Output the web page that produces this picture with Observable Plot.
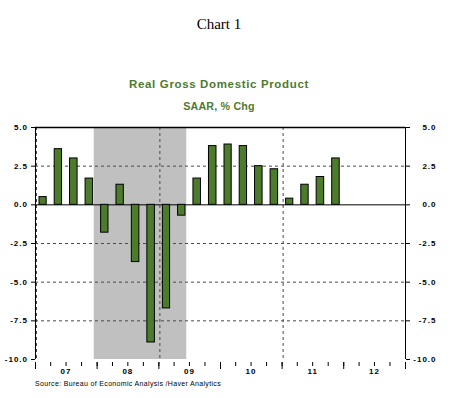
<!DOCTYPE html>
<html><head><meta charset="utf-8">
<script src="https://cdn.jsdelivr.net/npm/d3@7"></script>
<script src="https://cdn.jsdelivr.net/npm/@observablehq/plot@0.6"></script>
<style>
body{margin:0;background:#fff;}
#wrap{position:relative;width:450px;height:398px;overflow:hidden;}
.t{position:absolute;left:0;width:438px;text-align:center;line-height:1;white-space:nowrap;}
#chart{position:absolute;left:0;top:0;}
</style></head><body>
<div id="wrap">
<div id="chart"></div>
<div class="t" id="t0" style="top:15.7px;font:15px 'Liberation Serif','Times New Roman',serif;color:#000;"></div>
<div class="t" id="t1" style="top:77.6px;font:bold 11.5px 'Liberation Sans',Arial,sans-serif;color:#4e7a30;letter-spacing:0.65px;"></div>
<div class="t" id="t2" style="top:100.2px;font:bold 10.7px 'Liberation Sans',Arial,sans-serif;color:#4e7a30;letter-spacing:0.2px;"></div>
<div id="src" style="position:absolute;left:35px;top:380px;font:7px 'Liberation Sans',Arial,sans-serif;letter-spacing:0.33px;line-height:1;white-space:nowrap;color:#000;"></div>
</div>
<script>
// ---- data ----
const chartTitle = "Chart 1";
const title = "Real Gross Domestic Product";
const subtitle = "SAAR, % Chg";
const source = "Source: Bureau of Economic Analysis /Haver Analytics";

const quarters = ["2007Q1","2007Q2","2007Q3","2007Q4","2008Q1","2008Q2","2008Q3","2008Q4",
                  "2009Q1","2009Q2","2009Q3","2009Q4","2010Q1","2010Q2","2010Q3","2010Q4",
                  "2011Q1","2011Q2","2011Q3","2011Q4"];
const gdp = [0.5, 3.6, 3.0, 1.7, -1.8, 1.3, -3.7, -8.9,
             -6.7, -0.7, 1.7, 3.8, 3.9, 3.8, 2.5, 2.3,
             0.4, 1.3, 1.8, 3.0];
const recessionStart = ["2007-12-15"];
const recessionEnd = ["2009-06-15"];
const yTicks = [-10, -7.5, -5, -2.5, 0, 2.5, 5];
const yGrid = [-7.5, -5, -2.5, 2.5];
const years = [2007, 2008, 2009, 2010, 2011, 2012];
const gridYears = [2007, 2009, 2011];
const xStartYear = 2007, xEndYear = 2013;

document.getElementById("t0").textContent = chartTitle;
document.getElementById("t1").textContent = title;
document.getElementById("t2").textContent = subtitle;
document.getElementById("src").textContent = source;

const qStart = q => new Date(Date.UTC(+q.slice(0, 4), (+q[5] - 1) * 3, 1));
const qEnd = q => d3.utcMonth.offset(qStart(q), 3);
const data = quarters.map((q, i) => ({q, value: gdp[i]}));
const recessions = recessionStart.map((s, i) => ({start: new Date(s), end: new Date(recessionEnd[i])}));
const xStart = new Date(Date.UTC(xStartYear, 0, 1));
const xEnd = new Date(Date.UTC(xEndYear, 0, 1));
const quarterTicks = d3.utcMonths(xStart, d3.utcDay.offset(xEnd, 1), 3);
const yearTicks = d3.utcYears(xStart, d3.utcDay.offset(xEnd, 1));
const yearMids = years.map(y => new Date(Date.UTC(y, 6, 1)));
const gridDates = gridYears.map(y => new Date(Date.UTC(y, 0, 1)));
const fmt = d => d.toFixed(1);
const dash = "#4a4a4a";

const chart = Plot.plot({
  width: 450, height: 398,
  marginTop: 127, marginBottom: 39, marginLeft: 35, marginRight: 45,
  style: {fontFamily: "'Liberation Sans', Arial, sans-serif", fontSize: "8px", fontWeight: "bold",
          letterSpacing: "1px", background: "transparent", color: "#000"},
  x: {type: "utc", domain: [xStart, xEnd]},
  y: {domain: [yTicks[0], yTicks[yTicks.length - 1]]},
  marks: [
    Plot.rect(recessions, {x1: "start", x2: "end", fill: "#c0c0c0"}),
    Plot.ruleY(yGrid, {stroke: dash, strokeDasharray: "3,3"}),
    Plot.ruleX(gridDates, {stroke: dash, strokeDasharray: "3,3", dx: 1}),
    Plot.ruleY([0], {stroke: "#000"}),
    Plot.rect(data, {x1: d => qStart(d.q), x2: d => qEnd(d.q), y1: 0, y2: "value",
                     fill: "#4d7b2c", stroke: "#000", strokeWidth: 1, insetLeft: 4, insetRight: 4}),
    Plot.ruleY([yTicks[yTicks.length - 1]], {stroke: "#000", strokeWidth: 1.5}),
    Plot.ruleX([xStart, xEnd], {stroke: "#000"}),
    Plot.axisY({ticks: yTicks, anchor: "left", tickSize: 4, tickPadding: 3.5, tickFormat: fmt, label: null}),
    Plot.axisY({ticks: yTicks, anchor: "right", tickSize: 4, tickPadding: 27, textAnchor: "end", tickFormat: fmt, label: null}),
    Plot.axisX({ticks: quarterTicks, tickSize: 4, dy: 3, tickFormat: () => "", label: null}),
    Plot.axisX({ticks: yearTicks, tickSize: 7, dy: 3, tickFormat: () => "", label: null}),
    Plot.axisX({ticks: yearMids, tickSize: 0, tickPadding: 9, tickFormat: d3.utcFormat("%y"), label: null})
  ]
});
document.getElementById("chart").appendChild(chart);
</script>
</body></html>
